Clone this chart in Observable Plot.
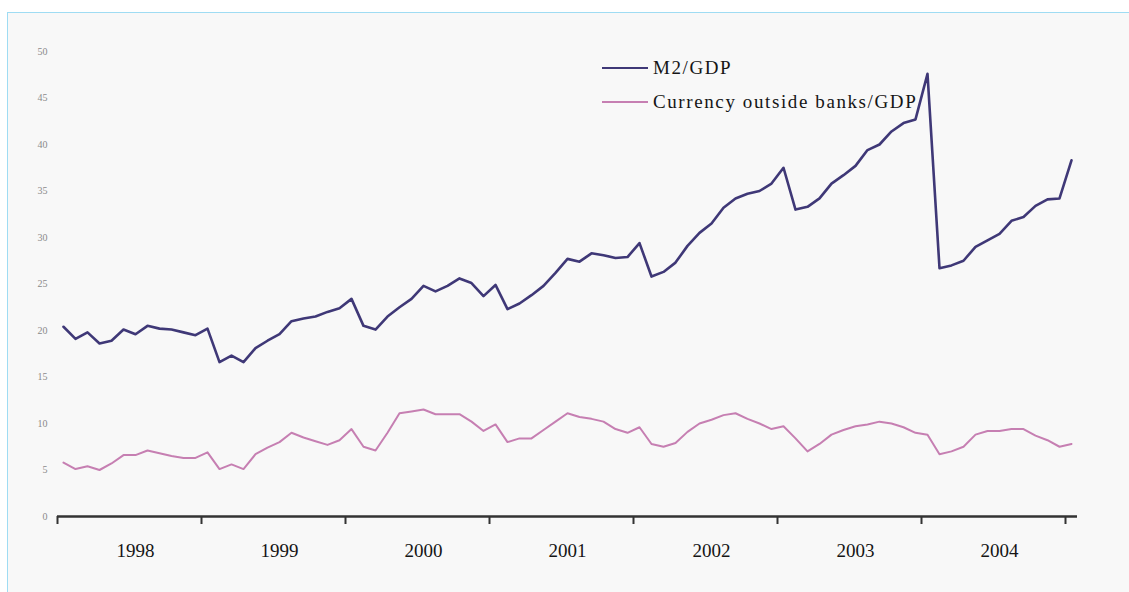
<!DOCTYPE html>
<html>
<head>
<meta charset="utf-8">
<script src="https://cdn.jsdelivr.net/npm/d3@7"></script>
<script src="https://cdn.jsdelivr.net/npm/@observablehq/plot@0.6"></script>
<style>
  html, body { margin: 0; padding: 0; background: #ffffff; }
  #wrap { position: relative; width: 1129px; height: 592px; overflow: hidden; }
  #frame { position: absolute; left: 7px; top: 12px; width: 1140px; height: 600px;
           border-top: 1px solid #9fdcf3; border-left: 1px solid #9fdcf3; background: #f8f8f8; }
  #chart { position: absolute; left: 0; top: 0; }
  #legend { position: absolute; left: 602px; top: 56px; font-family: "Liberation Serif", serif;
            font-size: 19px; letter-spacing: 1.6px; color: #151515; }
  .row { position: absolute; left: 0; white-space: nowrap; height: 24px; display: flex; align-items: center; }
  .sw { display: inline-block; width: 46px; height: 0; margin-right: 5px; }
</style>
</head>
<body>
<div id="wrap">
  <div id="frame"></div>
  <div id="chart"></div>
  <div id="legend"></div>
</div>
<script>
// Monthly observations, Jan 1998 .. Jan 2005 (index 0..84), percent of GDP
const m2Gdp = [
  20.4, 19.1, 19.8, 18.6, 18.9, 20.1, 19.6, 20.5, 20.2, 20.1, 19.8, 19.5,
  20.2, 16.6, 17.3, 16.6, 18.1, 18.9, 19.6, 21.0, 21.3, 21.5, 22.0, 22.4,
  23.4, 20.5, 20.1, 21.5, 22.5, 23.4, 24.8, 24.2, 24.8, 25.6, 25.1, 23.7,
  24.9, 22.3, 22.9, 23.8, 24.8, 26.2, 27.7, 27.4, 28.3, 28.1, 27.8, 27.9,
  29.4, 25.8, 26.3, 27.3, 29.1, 30.5, 31.5, 33.2, 34.2, 34.7, 35.0, 35.8,
  37.5, 33.0, 33.3, 34.2, 35.8, 36.7, 37.7, 39.4, 40.0, 41.4, 42.3, 42.7,
  47.6, 26.7, 27.0, 27.5, 29.0, 29.7, 30.4, 31.8, 32.2, 33.4, 34.1, 34.2,
  38.3
];
const currencyGdp = [
  5.8, 5.1, 5.4, 5.0, 5.7, 6.6, 6.6, 7.1, 6.8, 6.5, 6.3, 6.3,
  6.9, 5.1, 5.6, 5.1, 6.7, 7.4, 8.0, 9.0, 8.5, 8.1, 7.7, 8.2,
  9.4, 7.5, 7.1, 9.0, 11.1, 11.3, 11.5, 11.0, 11.0, 11.0, 10.2, 9.2,
  9.9, 8.0, 8.4, 8.4, 9.3, 10.2, 11.1, 10.7, 10.5, 10.2, 9.4, 9.0,
  9.6, 7.8, 7.5, 7.9, 9.1, 10.0, 10.4, 10.9, 11.1, 10.5, 10.0, 9.4,
  9.7, 8.4, 7.0, 7.8, 8.8, 9.3, 9.7, 9.9, 10.2, 10.0, 9.6, 9.0,
  8.8, 6.7, 7.0, 7.5, 8.8, 9.2, 9.2, 9.4, 9.4, 8.7, 8.2, 7.5,
  7.8
];
const years = ["1998", "1999", "2000", "2001", "2002", "2003", "2004"];
const yTicks = [0, 5, 10, 15, 20, 25, 30, 35, 40, 45, 50];
const seriesNames = ["M2/GDP", "Currency outside banks/GDP"];
const seriesColors = ["#3f3877", "#c67fb2"];

const rowsM2 = m2Gdp.map((v, i) => ({i, v}));
const rowsCur = currencyGdp.map((v, i) => ({i, v}));
const n = m2Gdp.length;
const boundaryTicks = years.map((_, k) => k * 12 - 0.5).concat([years.length * 12 - 0.5]);
const labelTicks = years.map((_, k) => k * 12 + 6);

const chart = Plot.plot({
  width: 1129,
  height: 592,
  marginLeft: 57,
  marginRight: 52,
  marginTop: 51,
  marginBottom: 76,
  style: {background: "transparent", overflow: "visible"},
  x: {domain: [-0.5, n - 0.5]},
  y: {domain: [0, 50]},
  marks: [
    Plot.axisY({ticks: yTicks, tickSize: 0, tickPadding: 10, fill: "#8a8a8a",
                fontSize: 10, fontFamily: "Liberation Serif", label: null}),
    Plot.axisX({ticks: boundaryTicks, tickSize: 8, tickFormat: () => "", stroke: "#333",
                strokeWidth: 2, label: null}),
    Plot.axisX({ticks: labelTicks, tickSize: 0, tickPadding: 27,
                tickFormat: d => years[(d - 6) / 12], fontSize: 19,
                fontFamily: "Liberation Serif", fill: "#151515", label: null}),
    Plot.ruleY([0], {x1: -0.5, x2: n - 0.5, stroke: "#333", strokeWidth: 2.5}),
    Plot.line(rowsCur, {x: "i", y: "v", stroke: seriesColors[1], strokeWidth: 2}),
    Plot.line(rowsM2, {x: "i", y: "v", stroke: seriesColors[0], strokeWidth: 2.6})
  ]
});
document.getElementById("chart").appendChild(chart);

const legend = document.getElementById("legend");
seriesNames.forEach((name, k) => {
  const row = document.createElement("div");
  row.className = "row";
  row.style.top = (k * 34) + "px";
  const sw = document.createElement("span");
  sw.className = "sw";
  sw.style.borderTop = (k === 0 ? 2.5 : 2) + "px solid " + seriesColors[k];
  const t = document.createElement("span");
  t.textContent = name;
  row.appendChild(sw);
  row.appendChild(t);
  legend.appendChild(row);
});
</script>
</body>
</html>
